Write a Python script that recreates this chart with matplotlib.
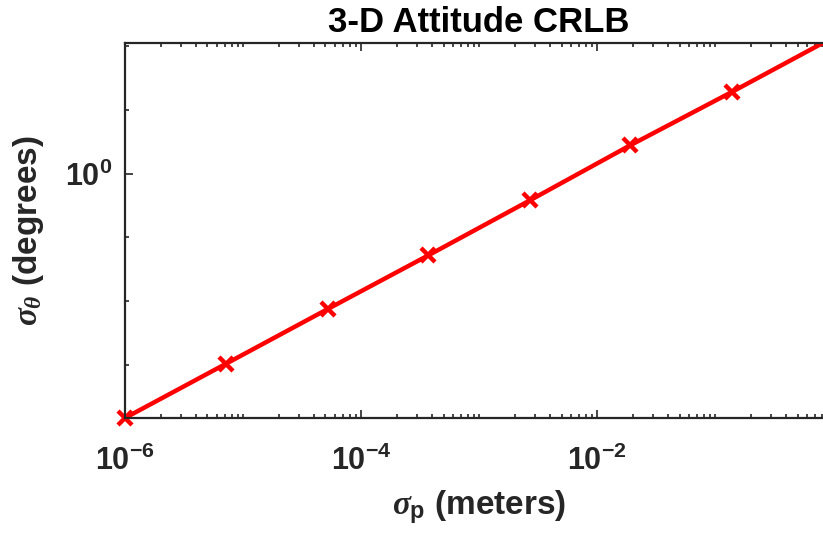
import numpy as np
import matplotlib
matplotlib.use("Agg")
import matplotlib.pyplot as plt
from matplotlib.ticker import FixedLocator, FuncFormatter, NullFormatter

# data (markers are evenly spaced in log x)
sigma_p = [1e-6, 7.2e-6, 5.2e-5, 3.7e-4, 2.7e-3, 1.9e-2, 1.4e-1, 1.0]
sigma_theta = [1.48e-4, 1.05e-3, 7.5e-3, 5.2e-2, 0.38, 2.75, 19.1, 135.0]

x_major = [1e-6, 1e-4, 1e-2]
y_major = [1e0]
y_minor = [1e-3, 1e-2, 1e-1, 1e1, 1e2]

plt.rcParams['font.family'] = ['Liberation Sans', 'DejaVu Sans']
plt.rcParams['font.weight'] = 'bold'
plt.rcParams['mathtext.fontset'] = 'custom'
plt.rcParams['mathtext.rm'] = 'Liberation Sans:bold'
plt.rcParams['mathtext.bf'] = 'Liberation Sans:bold'
plt.rcParams['mathtext.it'] = 'Liberation Serif:italic'

fig = plt.figure(figsize=(8.23, 5.41), dpi=100)
ax = fig.add_axes([0.1519, 0.2274, 0.8603, 0.6932])

red = '#ff0000'
# line is clipped to the box, markers are not (as in the original)
ax.loglog(sigma_p, sigma_theta, color=red, lw=3.2)
ax.loglog(sigma_p[:7], sigma_theta[:7], ls='none', marker='x', ms=10,
          mew=3.2, color=red, clip_on=False)

ax.set_xlim(1e-6, 1.0)
ax.set_ylim(1.48e-4, 111)

# ticks, MATLAB-like
fmt = FuncFormatter(lambda v, pos: r'$\mathbf{10^{%d}}$' % round(np.log10(v)))
ax.xaxis.set_major_locator(FixedLocator(x_major))
ax.xaxis.set_minor_locator(FixedLocator(
    [m * 10.0**e for e in range(-6, 0) for m in range(1, 10)]))
ax.yaxis.set_major_locator(FixedLocator(y_major))
ax.yaxis.set_minor_locator(FixedLocator(y_minor))
ax.xaxis.set_major_formatter(fmt)
ax.yaxis.set_major_formatter(fmt)
ax.xaxis.set_minor_formatter(NullFormatter())
ax.yaxis.set_minor_formatter(NullFormatter())

ax.tick_params(which='both', direction='in', top=True, right=True,
               color='#262626', labelcolor='#262626', width=1.2)
ax.tick_params(which='major', length=6, labelsize=22)
ax.tick_params(axis='x', which='major', pad=20)
ax.tick_params(axis='y', which='major', pad=9)
ax.tick_params(which='minor', length=3)
for s in ax.spines.values():
    s.set_linewidth(1.6)
    s.set_color('#262626')

ax.set_title('3-D Attitude CRLB', fontsize=25, fontweight='bold', pad=8)
ax.set_xlabel(r'$\sigma_{\mathbf{p}}$ (meters)', fontsize=24, labelpad=8,
              color='#262626', fontweight='bold')
ax.set_ylabel(r'$\sigma_{\theta}$ (degrees)', fontsize=24, labelpad=14,
              color='#262626', fontweight='bold')

fig.savefig('out.png', dpi=100)
